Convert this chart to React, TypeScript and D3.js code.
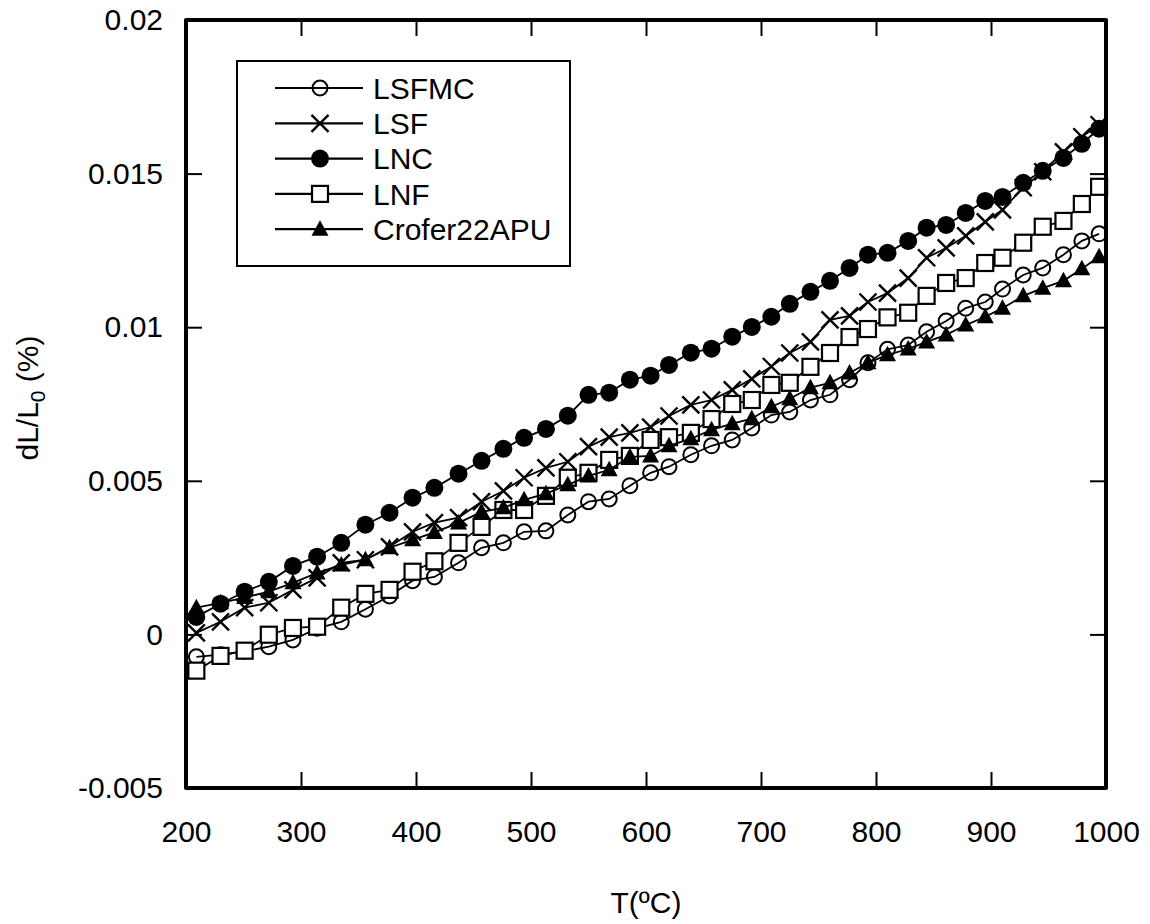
import React, { useEffect, useRef } from "react";
import * as d3 from "d3";

// temperature grid (ºC), shared by the five series
const temps = [
  209, 230, 251, 272, 293, 314, 335, 356, 377, 397, 416, 437, 457, 476, 494,
  513, 532, 550, 568, 586, 604, 620, 639, 657, 675, 692, 709, 725, 743, 760,
  777, 793, 810, 828, 844, 861, 878, 895, 910, 928, 945, 963, 979, 994,
];

const lsfmc = [
  -0.00073, -0.00066, -0.00055, -0.0004, -0.00018, 0.0002, 0.00041, 0.00082, 0.00125, 0.00175,
  0.00187, 0.00233, 0.00282, 0.00298, 0.00334, 0.00337, 0.00389, 0.00432, 0.00441, 0.00484,
  0.00526, 0.00546, 0.00585, 0.00614, 0.00633, 0.00672, 0.00714, 0.00724, 0.00763, 0.0078,
  0.00829, 0.00884, 0.00928, 0.00942, 0.00985, 0.0102, 0.01062, 0.01082, 0.01124, 0.0117,
  0.01193, 0.01236, 0.01281, 0.01304,
];

const lsf = [
  0.00005, 0.00041, 0.00087, 0.00103, 0.00145, 0.00184, 0.00233, 0.00243, 0.00285, 0.00334,
  0.00364, 0.0038, 0.00432, 0.00467, 0.0051, 0.00542, 0.00562, 0.00611, 0.00642, 0.00656,
  0.00675, 0.00711, 0.00747, 0.00763, 0.00796, 0.00832, 0.00872, 0.00916, 0.00952, 0.01024,
  0.01037, 0.01082, 0.01111, 0.0116, 0.01226, 0.01258, 0.01297, 0.01343, 0.01382, 0.01454,
  0.01506, 0.01571, 0.0162, 0.01659,
];

const lnc = [
  0.00057, 0.001, 0.00139, 0.00171, 0.00223, 0.00253, 0.00298, 0.00357, 0.00396, 0.00445,
  0.00477, 0.00523, 0.00565, 0.00604, 0.0064, 0.00669, 0.00712, 0.0078, 0.00787, 0.00829,
  0.00842, 0.00877, 0.00917, 0.0093, 0.00969, 0.01001, 0.01034, 0.01076, 0.01115, 0.01151,
  0.01193, 0.01236, 0.01242, 0.01281, 0.01324, 0.01333, 0.01372, 0.01411, 0.01424, 0.0147,
  0.01509, 0.01551, 0.01597, 0.01646,
];

const lnf = [
  -0.00118, -0.0007, -0.00053, -0.00001, 0.00021, 0.00025, 0.00087, 0.00132, 0.00145, 0.00204,
  0.00238, 0.00298, 0.0035, 0.00405, 0.00405, 0.00451, 0.0051, 0.00526, 0.00568, 0.00581,
  0.00633, 0.00642, 0.00656, 0.00701, 0.0075, 0.00763, 0.00812, 0.00819, 0.00871, 0.00916,
  0.00968, 0.00994, 0.01032, 0.01047, 0.01102, 0.01144, 0.0116, 0.01209, 0.01226, 0.01275,
  0.01327, 0.01346, 0.01401, 0.01457,
];

const crofer = [
  0.00087, 0.00103, 0.0012, 0.00139, 0.00168, 0.002, 0.00226, 0.00243, 0.00282, 0.00308,
  0.00332, 0.00363, 0.00399, 0.00412, 0.00438, 0.00458, 0.00487, 0.00516, 0.00536, 0.00578,
  0.00581, 0.00614, 0.00637, 0.00666, 0.00686, 0.00702, 0.00741, 0.00767, 0.00803, 0.00819,
  0.00851, 0.00884, 0.0091, 0.00929, 0.00952, 0.00975, 0.01007, 0.01034, 0.01062, 0.01102,
  0.01127, 0.01151, 0.0119, 0.01229,
];

const seriesNames = ["LSFMC", "LSF", "LNC", "LNF", "Crofer22APU"];
const markerKinds = ["circle", "x", "dot", "square", "triangle"];
const xTicks = [200, 300, 400, 500, 600, 700, 800, 900, 1000];
const yTicks = [-0.005, 0, 0.005, 0.01, 0.015, 0.02];

const FONT = "'Liberation Sans', Arial, sans-serif";

function drawMarkers(g: any, kind: string, pts: [number, number][]) {
  if (kind === "circle") {
    g.selectAll(null).data(pts).join("circle")
      .attr("cx", (d: any) => d[0]).attr("cy", (d: any) => d[1]).attr("r", 7.5)
      .attr("fill", "none").attr("stroke", "#000").attr("stroke-width", 2);
  } else if (kind === "dot") {
    g.selectAll(null).data(pts).join("circle")
      .attr("cx", (d: any) => d[0]).attr("cy", (d: any) => d[1]).attr("r", 9)
      .attr("fill", "#000");
  } else if (kind === "square") {
    g.selectAll(null).data(pts).join("rect")
      .attr("x", (d: any) => d[0] - 8).attr("y", (d: any) => d[1] - 8)
      .attr("width", 16).attr("height", 16)
      .attr("fill", "#fff").attr("stroke", "#000").attr("stroke-width", 2.2);
  } else if (kind === "x") {
    g.selectAll(null).data(pts).join("path")
      .attr("d", (d: any) => `M${d[0] - 8.5},${d[1] - 8.5}L${d[0] + 8.5},${d[1] + 8.5}M${d[0] + 8.5},${d[1] - 8.5}L${d[0] - 8.5},${d[1] + 8.5}`)
      .attr("fill", "none").attr("stroke", "#000").attr("stroke-width", 2.4);
  } else {
    g.selectAll(null).data(pts).join("path")
      .attr("d", (d: any) => `M${d[0]},${d[1] - 9}L${d[0] + 8.5},${d[1] + 6.5}L${d[0] - 8.5},${d[1] + 6.5}Z`)
      .attr("fill", "#000");
  }
}

export default function App() {
  const ref = useRef<SVGSVGElement>(null);

  useEffect(() => {
    const svg = d3.select(ref.current);
    svg.selectAll("*").remove();

    const left = 186, top = 20, right = 1106, bottom = 788;
    const x = d3.scaleLinear().domain([200, 1000]).range([left, right]);
    const y = d3.scaleLinear().domain([-0.005, 0.02]).range([bottom, top]);

    const allValues = [lsfmc, lsf, lnc, lnf, crofer];
    const series = seriesNames.map((name, i) => ({
      name,
      kind: markerKinds[i],
      pts: temps.map((t, j) => [x(t), y(allValues[i][j])] as [number, number]),
    }));

    // axes with inward ticks
    const styleAxis = (a: any) => {
      a.select(".domain").remove();
      a.attr("font-size", 30).attr("font-family", FONT);
      a.selectAll(".tick line").attr("stroke-width", 2);
      a.selectAll(".tick text").attr("fill", "#000");
    };
    svg.append("g").attr("transform", `translate(0,${bottom})`)
      .call(d3.axisBottom(x).tickValues(xTicks).tickSizeInner(-16).tickSizeOuter(0).tickPadding(33).tickFormat(d3.format("d")) as any)
      .call(styleAxis);
    svg.append("g").attr("transform", `translate(0,${top})`)
      .call(d3.axisTop(x).tickValues(xTicks).tickSizeInner(-16).tickSizeOuter(0).tickFormat(() => "") as any)
      .call(styleAxis);
    svg.append("g").attr("transform", `translate(${left},0)`)
      .call(d3.axisLeft(y).tickValues(yTicks).tickSizeInner(-16).tickSizeOuter(0).tickPadding(23).tickFormat((d: any) => String(+(+d).toFixed(3))) as any)
      .call(styleAxis);
    svg.append("g").attr("transform", `translate(${right},0)`)
      .call(d3.axisRight(y).tickValues(yTicks).tickSizeInner(-16).tickSizeOuter(0).tickFormat(() => "") as any)
      .call(styleAxis);

    // data
    const line = d3.line();
    series.forEach((s) => {
      const g = svg.append("g");
      g.append("path").attr("d", line(s.pts) as string)
        .attr("fill", "none").attr("stroke", "#000").attr("stroke-width", 1.8);
      drawMarkers(g, s.kind, s.pts);
    });

    // frame
    svg.append("rect").attr("x", left).attr("y", top)
      .attr("width", right - left).attr("height", bottom - top)
      .attr("fill", "none").attr("stroke", "#000").attr("stroke-width", 4)
      .attr("stroke-linejoin", "round");

    // legend
    const lg = svg.append("g");
    lg.append("rect").attr("x", 237).attr("y", 61).attr("width", 333).attr("height", 205)
      .attr("fill", "#fff").attr("stroke", "#000").attr("stroke-width", 2);
    series.forEach((s, i) => {
      const ly = 88 + i * 35.3;
      lg.append("line").attr("x1", 275).attr("x2", 363).attr("y1", ly).attr("y2", ly)
        .attr("stroke", "#000").attr("stroke-width", 2.2);
      drawMarkers(lg.append("g"), s.kind, [[320, ly]]);
      lg.append("text").attr("x", 373).attr("y", ly).attr("dy", "0.36em")
        .attr("font-size", 30).attr("font-family", FONT).text(s.name);
    });

    // axis titles
    svg.append("text").attr("x", (left + right) / 2).attr("y", 913)
      .attr("text-anchor", "middle").attr("font-size", 30).attr("font-family", FONT)
      .text("T(ºC)");
    const yt = svg.append("text").attr("transform", "translate(38,398) rotate(-90)")
      .attr("text-anchor", "middle").attr("font-size", 30).attr("font-family", FONT);
    yt.append("tspan").text("dL/L");
    yt.append("tspan").attr("font-size", 21).attr("dy", 7).text("0");
    yt.append("tspan").attr("dy", -7).text(" (%)");
  }, []);

  return (
    <svg ref={ref} width={1150} height={924}
      style={{ position: "absolute", left: 0, top: 0, background: "#fff" }} />
  );
}
